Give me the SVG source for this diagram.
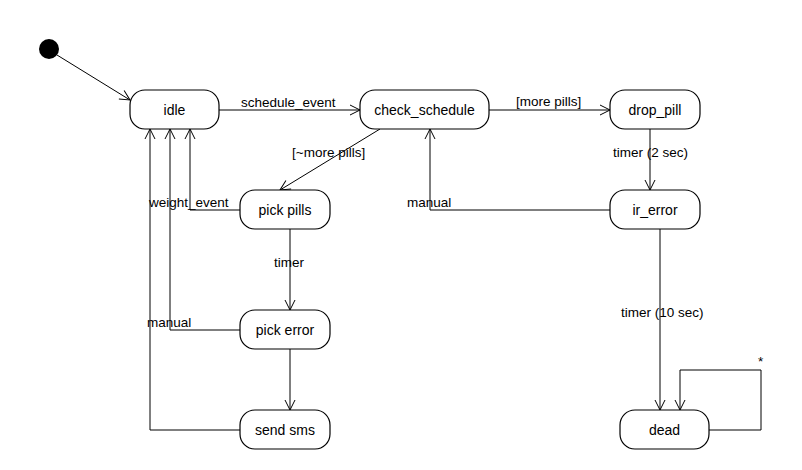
<svg xmlns="http://www.w3.org/2000/svg" width="802" height="470" viewBox="0 0 802 470">
<style>
.node rect{fill:#fff;stroke:#000;stroke-width:1.2}
.node text{font-family:"Liberation Sans",Arial,sans-serif;font-size:14px;text-anchor:middle;fill:#000}
.edges path,.edges line{fill:none;stroke:#000;stroke-width:1;marker-end:url(#arr)}
.lbl{font-family:"Liberation Sans",Arial,sans-serif;font-size:13.5px;fill:#000}
</style>
<defs>
<marker id="arr" markerUnits="userSpaceOnUse" markerWidth="14" markerHeight="14" viewBox="-12 -7 14 14" refX="0" refY="0" orient="auto">
<path d="M-10,-5 L0,0 L-10,5" fill="none" stroke="#000" stroke-width="1"/>
</marker>
</defs>
<rect width="802" height="470" fill="#fff"/>
<g id="initial"><circle cx="49" cy="49" r="10" fill="#000"/></g>
<g class="edges" id="connectors">
<line x1="57" y1="55" x2="130" y2="100"/>
<line x1="219" y1="110" x2="360" y2="110"/>
<line x1="489" y1="110" x2="610" y2="110"/>
<line x1="380" y1="129" x2="280" y2="190"/>
<line x1="650" y1="129" x2="650" y2="190"/>
<path d="M610,210 H430 V129"/>
<path d="M240,210 H190 V129"/>
<line x1="290" y1="229" x2="290" y2="310"/>
<path d="M240,330 H170 V129"/>
<line x1="290" y1="349" x2="290" y2="410"/>
<path d="M240,430 H150 V129"/>
<line x1="660" y1="229" x2="660" y2="410"/>
<path d="M709,430 H761 V370 H680 V410"/>
</g>
<g id="labels">
<text class="lbl" x="241" y="107">schedule_event</text>
<text class="lbl" x="516" y="106" font-size="12.5">[more pills]</text>
<text class="lbl" x="292" y="157" font-size="12.5">[~more pills]</text>
<text class="lbl" x="613" y="157" font-size="12.5">timer (2 sec)</text>
<text class="lbl" x="407" y="207">manual</text>
<text class="lbl" x="149" y="207">weight_event</text>
<text class="lbl" x="274" y="267">timer</text>
<text class="lbl" x="147" y="327">manual</text>
<text class="lbl" x="621" y="317" font-size="12.5">timer (10 sec)</text>
<text class="lbl" x="758" y="366" font-size="9">*</text>
</g>
<g class="node" id="idle"><rect x="130" y="90" width="89" height="39" rx="15"/><text x="174.5" y="115">idle</text></g>
<g class="node" id="check_schedule"><rect x="360" y="90" width="129" height="39" rx="15"/><text x="424.5" y="115">check_schedule</text></g>
<g class="node" id="drop_pill"><rect x="610" y="90" width="90" height="39" rx="15"/><text x="655" y="115">drop_pill</text></g>
<g class="node" id="pick_pills"><rect x="240" y="190" width="90" height="39" rx="15"/><text x="285" y="215">pick pills</text></g>
<g class="node" id="ir_error"><rect x="610" y="190" width="90" height="39" rx="15"/><text x="655" y="215">ir_error</text></g>
<g class="node" id="pick_error"><rect x="240" y="310" width="90" height="39" rx="15"/><text x="285" y="335">pick error</text></g>
<g class="node" id="send_sms"><rect x="240" y="410" width="90" height="39" rx="15"/><text x="285" y="435">send sms</text></g>
<g class="node" id="dead"><rect x="620" y="410" width="89" height="39" rx="15"/><text x="664.5" y="435">dead</text></g>
</svg>
